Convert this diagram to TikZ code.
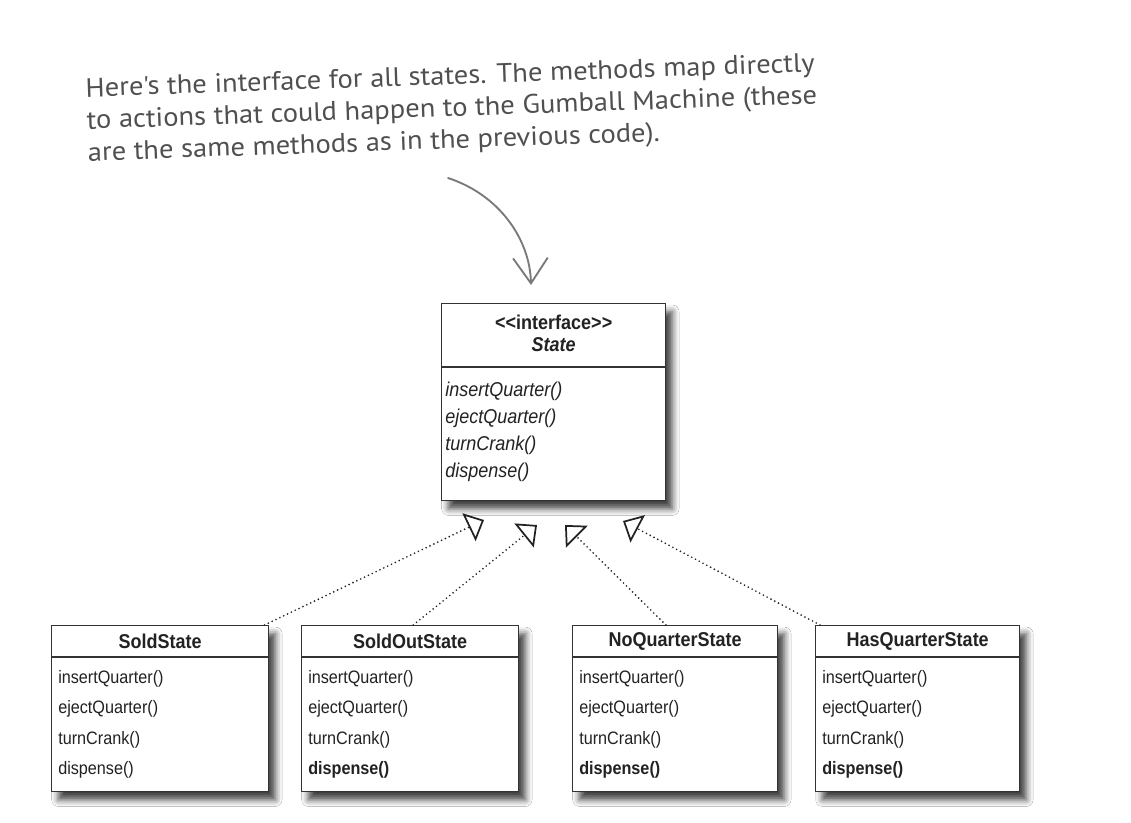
\documentclass[tikz,border=0pt]{standalone}
\usepackage{fontspec}
\setmainfont{Liberation Sans}
\newfontfamily\umlfont[FakeStretch=0.9]{Liberation Sans}
\newfontfamily\handfont[FakeStretch=1.07]{PT Sans}
\usetikzlibrary{arrows.meta,shadows.blur}
\definecolor{Ink}{HTML}{222222}
\definecolor{Frame}{HTML}{333333}
\definecolor{Pencil}{HTML}{505050}
\definecolor{Marker}{HTML}{7A7A7A}
\tikzset{
  classbox/.style={
    draw=Frame, line width=1.1pt, fill=white, anchor=north west, inner sep=0pt,
    blur shadow={shadow xshift=5pt, shadow yshift=-6pt, shadow blur radius=5pt, shadow opacity=75}
  },
  divider/.style={draw=Frame, line width=0.9pt},
  classname/.style={font=\umlfont\fontsize{15pt}{18pt}\selectfont\bfseries, text=Ink, inner sep=0pt},
  ifacehead/.style={font=\umlfont\fontsize{15pt}{16.5pt}\selectfont\bfseries, text=Ink, align=center, inner sep=0pt},
  ifacemethods/.style={
    font=\umlfont\fontsize{15pt}{20.3pt}\selectfont\itshape, text=Ink,
    align=left, anchor=north west, inner sep=0pt
  },
  methods/.style={
    font=\umlfont\fontsize{13.5pt}{22.9pt}\selectfont, text=Ink,
    align=left, anchor=north west, inner sep=0pt
  },
  realize/.style={-{Triangle[open, length=12.5pt, width=23pt, line width=1.3pt]}, draw=Ink, line width=1.4pt,
    dash pattern=on 0pt off 3.2pt, line cap=round},
  note/.style={font=\handfont\fontsize{20pt}{24pt}\selectfont, text=Pencil, align=left, inner sep=0pt},
  pointer/.style={-{Straight Barb[length=19pt, width=26pt]}, draw=Marker, line width=1.4pt, line cap=round}
}
\begin{document}
\begin{tikzpicture}[x=0.75pt, y=-0.75pt]
    \useasboundingbox[fill=white] (0,0) rectangle (1131,822);
    % handwritten remark
    \node[note, anchor=north west, rotate=2] (note) at (85,78)
      {Here's the interface for all states. The methods map directly\\
       to actions that could happen to the Gumball Machine (these\\
       are the same methods as in the previous code).};
    \coordinate (notetail) at (448,178);
    \coordinate (notehead) at (531,285);
    \draw[pointer] (notetail) .. controls (500,195) and (530,240) .. (notehead);
    % the interface
    \node[classbox, minimum width=168pt, minimum height=147.75pt] (state) at (441,303) {};
    \draw[divider] ([yshift=-48pt]state.north west) -- ([yshift=-48pt]state.north east);
    \node[ifacehead] (statename) at ([yshift=-22.5pt]state.north)
      {<\kern0pt<interface>\kern0pt>\\\itshape State};
    \node[ifacemethods] (statemethods) at ([xshift=3pt, yshift=-59pt]state.north west)
      {insertQuarter()\\ejectQuarter()\\turnCrank()\\dispense()};
    % the concrete states
    \foreach \nm/\xx/\ww/\ttl/\disp in {
        sold/51/162.75pt/SoldState/dispense(),
        soldout/301/162.75pt/SoldOutState/\textbf{dispense()},
        noquarter/572/153.75pt/NoQuarterState/\textbf{dispense()},
        hasquarter/815/153pt/HasQuarterState/\textbf{dispense()}} {
      \node[classbox, minimum width=\ww, minimum height=124.5pt] (\nm) at (\xx,625) {};
      \draw[divider] ([yshift=-24pt]\nm.north west) -- ([yshift=-24pt]\nm.north east);
      \node[classname] (\nm name) at ([yshift=-12pt]\nm.north) {\ttl};
      \node[methods] (\nm methods) at ([xshift=5.25pt, yshift=-33.75pt]\nm.north west)
        {insertQuarter()\\ejectQuarter()\\turnCrank()\\\disp};
    }
    \coordinate (tipsold) at (484,520);
    \coordinate (tipsoldout) at (537,525);
    \coordinate (tipnoquarter) at (565,525);
    \coordinate (tiphasquarter) at (623,521);
    \draw[realize] ([xshift=-3.75pt]sold.north east) -- (tipsold);
    \draw[realize] ([xshift=2.25pt]soldout.north) -- (tipsoldout);
    \draw[realize] ([xshift=-7pt]noquarter.north) -- (tipnoquarter);
    \draw[realize] ([xshift=3.75pt]hasquarter.north west) -- (tiphasquarter);
\end{tikzpicture}
\end{document}
